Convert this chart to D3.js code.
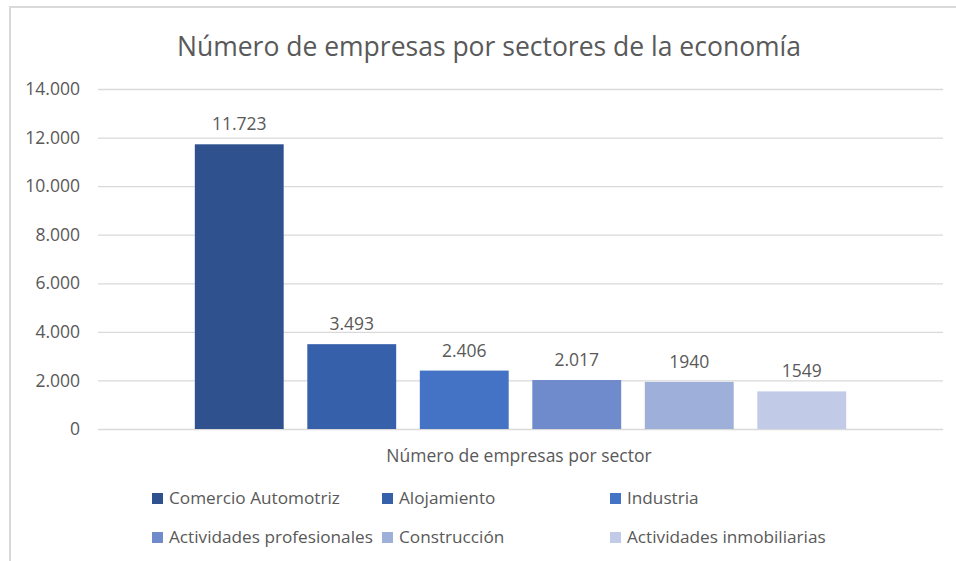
<!DOCTYPE html>
<meta charset="utf-8">
<style>
  body { margin: 0; background: #fff; }
  text { font-family: "Open Sans", "Liberation Sans", sans-serif; fill: #595959; }
</style>
<svg width="956" height="561"></svg>
<script src="https://cdn.jsdelivr.net/npm/d3@7"></script>
<script>
    var sectors = ["Comercio Automotriz", "Alojamiento", "Industria",
                   "Actividades profesionales", "Construcción", "Actividades inmobiliarias"];
    var counts = [11723, 3493, 2406, 2017, 1940, 1549];
    var labels = ["11.723", "3.493", "2.406", "2.017", "1940", "1549"];
    var yTicks = [0, 2000, 4000, 6000, 8000, 10000, 12000, 14000];
    var colors = ["#2F528F", "#3760AA", "#4472C4", "#6F8BCB", "#9EAFDA", "#C1CBE7"];

    var svg = d3.select("svg");

    // marco del grafico
    svg.append("path")
        .attr("d", "M10,561 V7 H956")
        .attr("fill", "none")
        .attr("stroke", "#d9d9d9")
        .attr("stroke-width", 2);

    svg.append("text")
        .attr("x", 489).attr("y", 56)
        .attr("text-anchor", "middle")
        .style("font-size", "26.5px")
        .text("Número de empresas por sectores de la economía");

    var y = d3.scaleLinear().domain([0, 14000]).range([429, 89]);
    var x = d3.scaleBand().domain(sectors)
        .range([183, 858])
        .paddingInner(0.21)
        .paddingOuter(0.105);

    var fmt = d3.formatLocale({decimal: ",", thousands: ".", grouping: [3], currency: ["", ""]}).format(",");

    var yAxis = svg.append("g")
        .attr("transform", "translate(98,0)")
        .call(d3.axisLeft(y).tickValues(yTicks).tickFormat(fmt).tickSize(-845).tickPadding(18));
    yAxis.select(".domain").remove();
    yAxis.selectAll(".tick line").attr("stroke", "#d9d9d9").attr("stroke-width", 1.3);
    yAxis.selectAll(".tick text").style("font-size", "17.5px").attr("fill", "#595959");

    svg.selectAll("rect.bar")
        .data(sectors)
        .join("rect")
        .attr("class", "bar")
        .attr("x", function(d) { return x(d); })
        .attr("width", x.bandwidth())
        .attr("y", function(d, i) { return y(counts[i]); })
        .attr("height", function(d, i) { return y(0) - y(counts[i]); })
        .attr("fill", function(d, i) { return colors[i]; });

    svg.selectAll("text.val")
        .data(sectors)
        .join("text")
        .attr("class", "val")
        .attr("x", function(d) { return x(d) + x.bandwidth() / 2; })
        .attr("y", function(d, i) { return y(counts[i]) - 14; })
        .attr("text-anchor", "middle")
        .style("font-size", "17.5px")
        .attr("fill", "#404040")
        .text(function(d, i) { return labels[i]; });

    svg.append("text")
        .attr("x", 519).attr("y", 462)
        .attr("text-anchor", "middle")
        .style("font-size", "17.5px")
        .text("Número de empresas por sector");

    // leyenda en dos filas de tres
    var colX = [152, 382, 610];
    var rowY = [498, 537];
    var leg = svg.selectAll("g.leg")
        .data(sectors)
        .join("g")
        .attr("class", "leg")
        .attr("transform", function(d, i) {
            return "translate(" + colX[i % 3] + "," + rowY[Math.floor(i / 3)] + ")";
        });
    leg.append("rect")
        .attr("x", 0).attr("y", -5)
        .attr("width", 11).attr("height", 11)
        .attr("fill", function(d, i) { return colors[i]; });
    leg.append("text")
        .attr("x", 17).attr("y", 6)
        .style("font-size", "17.2px")
        .text(function(d) { return d; });
</script>
